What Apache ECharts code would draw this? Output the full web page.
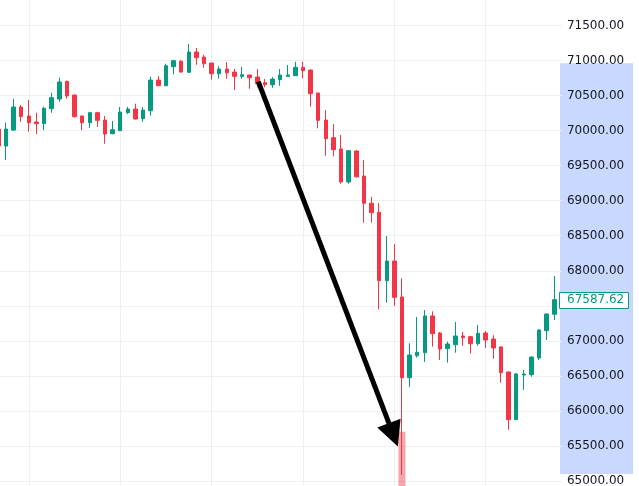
<!DOCTYPE html>
<html><head><meta charset="utf-8">
<script src="https://cdn.jsdelivr.net/npm/echarts@6/dist/echarts.min.js"></script>
<style>html,body{margin:0;padding:0;background:#fff;overflow:hidden}#c{width:639px;height:486px}</style>
</head><body><div id="c"></div>
<script>
// hourly candle times (axis labels hidden in the reference)
const categories = ["08:00","09:00","10:00","11:00","12:00","13:00","14:00","15:00","16:00","17:00","18:00","19:00","20:00","21:00","22:00","23:00",
"00:00","01:00","02:00","03:00","04:00","05:00","06:00","07:00","08:00","09:00","10:00","11:00","12:00","13:00","14:00","15:00","16:00","17:00","18:00","19:00","20:00","21:00","22:00","23:00",
"00:00","01:00","02:00","03:00","04:00","05:00","06:00","07:00","08:00","09:00","10:00","11:00","12:00","13:00","14:00","15:00","16:00","17:00","18:00","19:00","20:00","21:00","22:00","23:00",
"00:00","01:00","02:00","03:00","04:00","05:00","06:00","07:00","08:00","09:00","10:00"];

const opens  = [70020,69780,70008,70337,70209,70123,70099,70313,70451,70704,70508,70209,70113,70256,70151,69956,69999,70256,70308,70170,70284,70722,70641,70912,70989,70832,71122,71050,70965,70812,70879,70836,70775,70794,70765,70684,70655,70727,70775,70784,70903,70865,70537,70151,69899,69738,69267,69709,69352,68963,68834,67858,68139,67626,66474,66788,66831,67355,67112,66888,66945,67069,67059,66959,67112,67026,66912,66555,65875,66513,66517,66755,67145,67379,null];
const closes = [69780,70023,70337,70199,70113,70099,70318,70470,70694,70494,70199,70113,70256,70147,69952,70013,70266,70308,70166,70294,70722,70641,70926,70998,70836,71122,71040,70955,70812,70879,70826,70775,70798,70755,70669,70655,70736,70794,70794,70903,70855,70527,70147,69885,69728,69267,69713,69342,68963,68829,67858,68139,67621,66474,66798,66837,67355,67102,66884,66955,67069,67045,66959,67108,67012,66898,66545,65875,66527,66527,66769,67155,67383,67587.62,null];
const lows   = [69700,69581,69995,70127,69985,69952,70008,70256,70413,70455,70190,70008,70037,70052,69813,69950,69995,70237,70160,70127,70213,70636,70636,70804,70830,70826,70941,70898,70727,70741,70741,70580,70741,70598,70618,70618,70612,70641,70770,70780,70746,70341,70033,69642,69633,69243,69243,69328,68686,68686,67450,67544,67497,65086,66337,66759,66698,66916,66727,66688,66831,66931,66817,66931,66898,66745,66403,65732,65870,66299,66488,66727,67012,67297,null];
const highs  = [70100,70113,70451,70365,70437,70256,70341,70541,70755,70713,70515,70215,70270,70270,70209,70137,70337,70341,70384,70337,70769,70779,70955,71012,71008,71236,71179,71083,70970,70922,70979,70879,70908,70800,70879,70736,70765,70879,70936,70983,70983,70870,70540,70294,70094,69937,69718,69723,69580,69057,68963,68496,68382,67893,66965,67340,67440,67422,67126,66988,67269,67126,67065,67226,67141,67079,66926,66560,66541,66584,66775,67165,67390,67925,null];

// translucent highlight bar under the crash candle
const highlightIndex = 53;
const highlightValue = 65703;

// y axis ticks
const yMin = 64500, yMax = 72000, yStep = 500;

// price-range band shown on the axis (drawing's range)
const rangeTop = 70960, rangeBottom = 65100;

// arrow drawing in (candle position, price)
const arrowStart = [34.13, 70698];
const arrowEnd   = [51.87, 65659];

const UP = '#089981', DOWN = '#F23645';
const FONT = 'DejaVu Sans';

const candleData = opens.map((o, k) => o == null ? '-' : [o, closes[k], lows[k], highs[k]]);
const barData = categories.map((c, k) => k === highlightIndex ? highlightValue : '-');
const lastIdx = closes.length - 2;
const lastClose = closes[lastIdx];

const chart = echarts.init(document.getElementById('c'), null, {renderer: 'canvas'});
const gridLine = {show: true, lineStyle: {color: '#efefef', width: 1}};
chart.setOption({
  animation: false,
  backgroundColor: '#ffffff',
  grid: {left: -1.615, right: 77.1, top: -9.5, bottom: -30, containLabel: false, outerBoundsMode: 'none'},
  xAxis: [{
    type: 'category', data: categories, boundaryGap: false,
    axisLine: {show: false}, axisTick: {show: false}, axisLabel: {show: false},
    splitLine: Object.assign({interval: (idx) => (idx - 4) % 12 === 0}, gridLine)
  }, {
    type: 'value', min: 0, max: categories.length - 1, show: false
  }],
  yAxis: {
    type: 'value', position: 'right', min: yMin, max: yMax, interval: yStep, scale: true,
    axisLine: {show: false}, axisTick: {show: false},
    axisLabel: {margin: 5, color: '#131722', fontSize: 12, fontFamily: FONT,
      formatter: v => v.toFixed(2)},
    splitLine: gridLine
  },
  series: [{
    type: 'bar', data: barData, barWidth: 7, silent: true,
    itemStyle: {color: 'rgba(242,54,69,0.45)'}
  }, {
    type: 'candlestick', data: candleData, barWidth: 4, silent: true,
    itemStyle: {color: UP, color0: DOWN, borderColor: UP, borderColor0: DOWN, borderWidth: 1}
  }, {
    type: 'line', xAxisIndex: 1, data: [], silent: true,
    markLine: {
      silent: true, symbol: ['none', 'triangle'], symbolSize: [25, 25],
      lineStyle: {color: '#000', width: 5, type: 'solid'}, label: {show: false},
      data: [[{coord: arrowStart}, {coord: arrowEnd}]]
    }
  }]
});

const yLast = chart.convertToPixel({yAxisIndex: 0}, lastClose);
const yTop = chart.convertToPixel({yAxisIndex: 0}, rangeTop);
const yBot = chart.convertToPixel({yAxisIndex: 0}, rangeBottom);
chart.setOption({
  graphic: [
    {type: 'rect', z: -10, silent: true,
     shape: {x: 560, y: yTop, width: 73, height: yBot - yTop},
     style: {fill: 'rgba(41,98,255,0.25)'}},
    {type: 'rect', z: 100, silent: true,
     shape: {x: 559.5, y: Math.round(yLast) - 7.5, width: 69, height: 16},
     style: {fill: '#ffffff', stroke: UP, lineWidth: 1}},
    {type: 'text', z: 101, silent: true, x: 567, y: yLast + 0.5,
     style: {text: lastClose.toFixed(2), fill: UP, font: '12px "' + FONT + '"', verticalAlign: 'middle', align: 'left'}}
  ]
});
</script>
</body></html>
